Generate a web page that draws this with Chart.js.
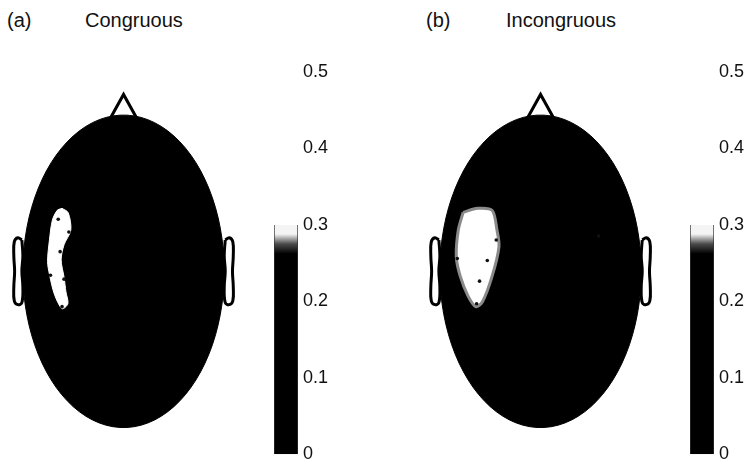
<!DOCTYPE html>
<html>
<head>
<meta charset="utf-8">
<script src="https://cdn.jsdelivr.net/npm/chart.js@4.4.0/dist/chart.umd.min.js"></script>
<style>
body { margin: 0; background: #fff; width: 748px; height: 464px; position: relative; overflow: hidden;
       font-family: "Liberation Sans", Arial, sans-serif; }
.lbl { position: absolute; font-size: 20px; line-height: 20px; color: #111; white-space: nowrap; }
canvas { position: absolute; }
</style>
</head>
<body>
<div class="lbl" style="left:7px;top:10px">(a)</div>
<div class="lbl" style="left:85px;top:10px" id="titleA"></div>
<div class="lbl" style="left:426px;top:10px">(b)</div>
<div class="lbl" style="left:506px;top:10px" id="titleB"></div>

<canvas id="headA" width="250" height="464" style="left:0;top:0"></canvas>
<canvas id="barA" width="70" height="430" style="left:274px;top:40px"></canvas>
<canvas id="headB" width="250" height="464" style="left:417px;top:0"></canvas>
<canvas id="barB" width="70" height="430" style="left:690px;top:40px"></canvas>

<script>
// panel titles
const panelTitles = ['Congruous', 'Incongruous'];

// colour bar: values 0..0.5, bar filled up to 0.3
const scaleTicks = [0, 0.1, 0.2, 0.3, 0.4, 0.5];
const colorbarTop = 0.3;
const shadeStart = 0.262;   // black below this
const shadeEnd = 0.288;     // white above this

// head outline parts (head radius = 1 on each axis)
const noseOutline = [[-0.2, 0.9], [0, 1.132], [0.2, 0.9]];
const earOutline = [[-1.01, 0.2], [-1.05, 0.215], [-1.085, 0.19], [-1.09, 0.1], [-1.082, 0],
                    [-1.09, -0.1], [-1.085, -0.19], [-1.05, -0.213], [-1.01, -0.2],
                    [-1.0, -0.1], [-1.01, 0], [-1.0, 0.1], [-1.01, 0.2]];

// white (above threshold) regions
const blobA = [[-0.611, 0.403], [-0.55, 0.375], [-0.524, 0.264], [-0.591, 0.17], [-0.62, 0.075],
               [-0.591, -0.038], [-0.572, -0.132], [-0.553, -0.208], [-0.611, -0.239],
               [-0.688, -0.145], [-0.736, -0.019], [-0.755, 0.063], [-0.736, 0.201],
               [-0.707, 0.327], [-0.659, 0.39], [-0.611, 0.403]];
const blobB = [[-0.769, 0.377], [-0.625, 0.403], [-0.481, 0.39], [-0.433, 0.264], [-0.413, 0.157],
               [-0.481, -0.031], [-0.577, -0.195], [-0.644, -0.226], [-0.721, -0.157],
               [-0.798, -0.031], [-0.837, 0.094], [-0.817, 0.264], [-0.769, 0.377]];

// electrode sites at the edge of the regions
const sitesA = [[-0.649, 0.333], [-0.543, 0.252], [-0.63, 0.126], [-0.726, -0.025],
                [-0.591, -0.05], [-0.611, -0.226]];
const sitesB = [[-0.529, 0.069], [-0.606, -0.063], [-0.635, -0.208], [-0.827, 0.082],
                [-0.44, 0.2], [0.577, 0.226]];

const pts = arr => arr.map(p => ({ x: p[0], y: p[1] }));
const mirror = arr => arr.map(p => [-p[0], p[1]]);

const headOutline = [];
for (let i = 0; i <= 90; i++) {
    const t = i / 90 * 2 * Math.PI;
    headOutline.push([Math.cos(t), Math.sin(t)]);
}

document.getElementById('titleA').textContent = panelTitles[0];
document.getElementById('titleB').textContent = panelTitles[1];

function shape(data, fillColor, lineColor, width) {
    return {
        data: pts(data),
        showLine: true,
        fill: 'shape',
        backgroundColor: fillColor,
        borderColor: lineColor,
        borderWidth: width,
        pointRadius: 0,
        tension: 0
    };
}

function drawHead(id, blob, sites, rim) {
    const ear = shape(earOutline, '#fff', '#000', 3);
    ear.tension = 0.4;
    const earR = shape(mirror(earOutline), '#fff', '#000', 3);
    earR.tension = 0.4;
    const blobSet = shape(blob, '#fff', rim, rim === '#fff' ? 1 : 3);
    blobSet.tension = 0.3;
    new Chart(document.getElementById(id), {
        type: 'scatter',
        data: {
            datasets: [
                {
                    data: pts(sites),
                    pointRadius: 1.8,
                    pointBackgroundColor: '#111',
                    pointBorderWidth: 0
                },
                blobSet,
                shape(headOutline, '#000', '#000', 1),
                ear,
                earR,
                shape(noseOutline, '#fff', '#000', 3)
            ]
        },
        options: {
            responsive: false,
            animation: false,
            layout: { padding: 0 },
            plugins: { legend: { display: false }, tooltip: { enabled: false } },
            scales: {
                x: { type: 'linear', display: false, min: -1.1875, max: 1.2163 },
                y: { type: 'linear', display: false, min: -1.2075, max: 1.7107 }
            }
        }
    });
}

function drawBar(id) {
    new Chart(document.getElementById(id), {
        type: 'bar',
        data: {
            labels: [''],
            datasets: [{
                data: [colorbarTop],
                barPercentage: 1,
                categoryPercentage: 1,
                borderWidth: { left: 1, right: 1, top: 0, bottom: 0 },
                borderColor: '#333',
                borderSkipped: false,
                backgroundColor: (c) => {
                    const chart = c.chart;
                    if (!chart.chartArea) return '#000';
                    const y = chart.scales.y;
                    const g = chart.ctx.createLinearGradient(0, y.getPixelForValue(shadeStart), 0, y.getPixelForValue(shadeEnd));
                    g.addColorStop(0, '#000');
                    g.addColorStop(0.5, '#4a4a4a');
                    g.addColorStop(1, '#f4f4f4');
                    return g;
                }
            }]
        },
        options: {
            responsive: false,
            animation: false,
            layout: { padding: { top: 32, bottom: 15, left: 0, right: 0 } },
            plugins: { legend: { display: false }, tooltip: { enabled: false } },
            scales: {
                x: { display: false },
                y: {
                    position: 'right',
                    min: scaleTicks[0],
                    max: scaleTicks[scaleTicks.length - 1],
                    afterBuildTicks: (s) => { s.ticks = scaleTicks.map(v => ({ value: v })); },
                    afterFit: (s) => { s.width = 46; },
                    grid: { display: false, drawTicks: false },
                    border: { display: false },
                    ticks: {
                        padding: 5,
                        color: '#111',
                        font: { family: '"Liberation Sans", Arial, sans-serif', size: 18 }
                    }
                }
            }
        }
    });
}

drawHead('headA', blobA, sitesA, '#fff');
drawBar('barA');
drawHead('headB', blobB, sitesB, '#8a8a8a');
drawBar('barB');
</script>
</body>
</html>
